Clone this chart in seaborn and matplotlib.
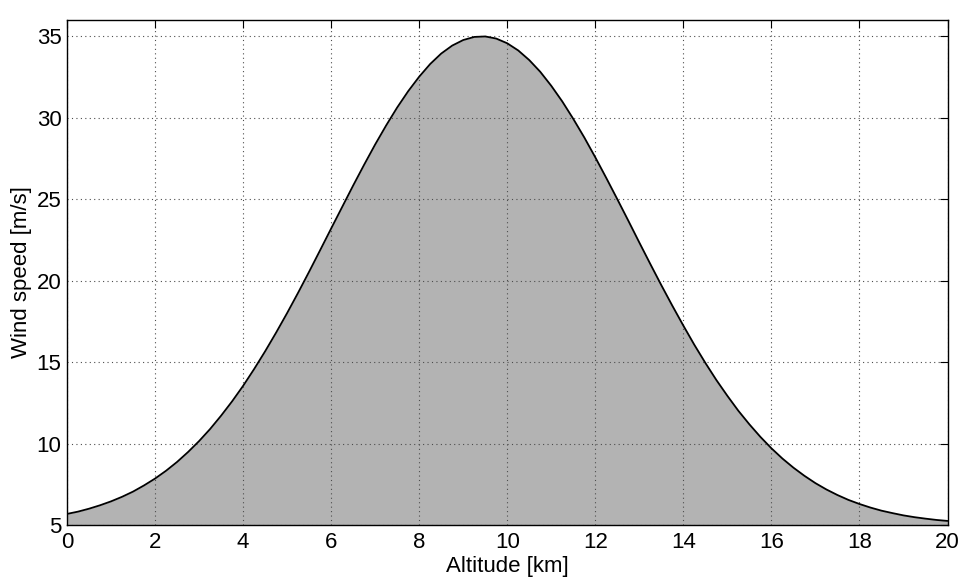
import numpy as np
import pandas as pd
import matplotlib
matplotlib.use("Agg")
import matplotlib.pyplot as plt
import seaborn as sns

altitude_km = [0, 0.25, 0.5, 0.75, 1, 1.25, 1.5, 1.75, 2, 2.25, 2.5, 2.75, 3, 3.25,
               3.5, 3.75, 4, 4.25, 4.5, 4.75, 5, 5.25, 5.5, 5.75, 6, 6.25, 6.5, 6.75,
               7, 7.25, 7.5, 7.75, 8, 8.25, 8.5, 8.75, 9, 9.25, 9.5, 9.75, 10, 10.25,
               10.5, 10.75, 11, 11.25, 11.5, 11.75, 12, 12.25, 12.5, 12.75, 13, 13.25,
               13.5, 13.75, 14, 14.25, 14.5, 14.75, 15, 15.25, 15.5, 15.75, 16, 16.25,
               16.5, 16.75, 17, 17.25, 17.5, 17.75, 18, 18.25, 18.5, 18.75, 19, 19.25,
               19.5, 19.75, 20]
wind_speed = [5.68, 5.82, 6.00, 6.21, 6.45, 6.73, 7.05, 7.43, 7.85, 8.33, 8.87, 9.48,
              10.15, 10.89, 11.71, 12.59, 13.54, 14.57, 15.66, 16.81, 18.01, 19.26,
              20.55, 21.87, 23.20, 24.52, 25.84, 27.12, 28.36, 29.53, 30.63, 31.63,
              32.52, 33.30, 33.94, 34.43, 34.77, 34.96, 34.99, 34.86, 34.57, 34.13,
              33.54, 32.82, 31.96, 31.00, 29.93, 28.79, 27.57, 26.30, 25.00, 23.68,
              22.34, 21.02, 19.72, 18.46, 17.24, 16.06, 14.95, 13.90, 12.93, 12.01,
              11.18, 10.41, 9.71, 9.08, 8.52, 8.02, 7.57, 7.18, 6.84, 6.54, 6.29,
              6.07, 5.88, 5.73, 5.59, 5.48, 5.39, 5.31, 5.25]
x_ticks = [0, 2, 4, 6, 8, 10, 12, 14, 16, 18, 20]
y_ticks = [5, 10, 15, 20, 25, 30, 35]

df = pd.DataFrame({"Altitude": altitude_km, "Wind": wind_speed})

sns.set_style("white")
plt.rcParams["font.family"] = ["Liberation Sans", "DejaVu Sans"]

fig = plt.figure(figsize=(9.62, 5.81), dpi=100)
ax = fig.add_axes([67 / 962, 1 - 525 / 581, (947.5 - 67) / 962, (525 - 20) / 581])

ax.fill_between(df["Altitude"], 5, df["Wind"], color="#b3b3b3", linewidth=0, zorder=1)
sns.lineplot(data=df, x="Altitude", y="Wind", color="black", linewidth=1.3, ax=ax, zorder=3)

ax.set_xlim(0, 20)
ax.set_ylim(5, 36)
ax.set_xticks(x_ticks)
ax.set_yticks(y_ticks)
ax.set_xticklabels([str(t) for t in x_ticks])
ax.set_yticklabels([str(t) for t in y_ticks])

ax.grid(True, linestyle=(0, (1, 3)), color="0.3", linewidth=0.8, zorder=2)
ax.set_axisbelow(False)

for s in ax.spines.values():
    s.set_visible(True)
    s.set_color("black")
    s.set_linewidth(1.0)
    s.set_zorder(4)

ax.tick_params(axis="both", which="major", direction="in", length=6, width=0.8,
               colors="black", labelsize=16, top=True, right=True)
ax.tick_params(axis="x", pad=5)
ax.tick_params(axis="y", pad=4)

ax.set_xlabel("Altitude [km]", fontsize=16, labelpad=2, color="black")
ax.set_ylabel("Wind speed [m/s]", fontsize=16, labelpad=3, color="black")

fig.savefig("out.png", dpi=100)
